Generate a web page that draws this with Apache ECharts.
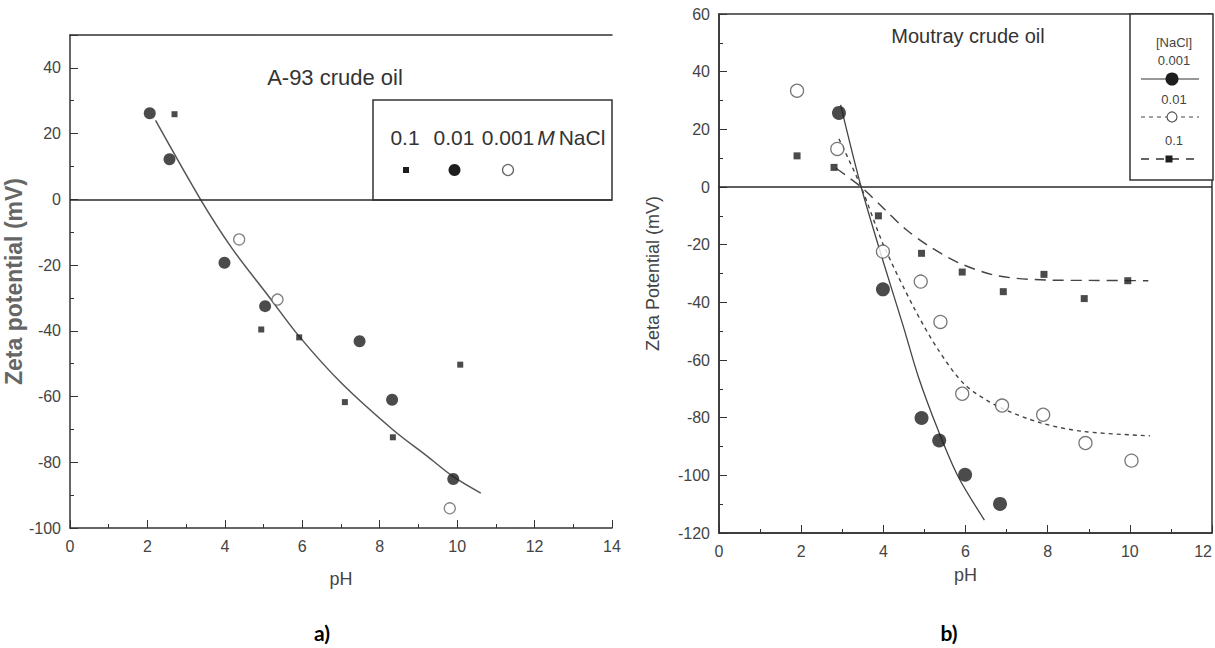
<!DOCTYPE html>
<html>
<head>
<meta charset="utf-8">
<script src="https://cdn.jsdelivr.net/npm/echarts@6/dist/echarts.min.js"></script>
<style>
html,body{margin:0;padding:0;background:#fff;}
#c{width:1215px;height:648px;}
</style>
</head>
<body>
<div id="c"></div>
<script>
// ---------- Panel a) A-93 crude oil ----------
const phA_01   = [2.7, 4.94, 5.92, 7.1, 8.34, 10.08];
const zA_01    = [25.9, -39.6, -42.0, -61.7, -72.4, -50.3];
const phA_001  = [2.06, 2.57, 3.99, 5.04, 7.48, 8.32, 9.9];
const zA_001   = [26.2, 12.2, -19.3, -32.5, -43.2, -61.0, -85.1];
const phA_0001 = [4.37, 5.36, 9.81];
const zA_0001  = [-12.2, -30.5, -94.0];
const phA_fit  = [2.21, 3.37, 4.19, 5.13, 5.92, 7.01, 8.34, 9.24, 9.9, 10.61];
const zA_fit   = [24, 0, -15, -29.5, -41.7, -55.9, -70.1, -78.3, -84.4, -89.4];

// ---------- Panel b) Moutray crude oil ----------
const phB_0001 = [2.92, 3.99, 4.93, 5.36, 5.99, 6.84];
const zB_0001  = [25.7, -35.5, -80.1, -87.9, -99.8, -109.9];
const phB_001  = [1.9, 2.88, 3.99, 4.91, 5.39, 5.92, 6.89, 7.89, 8.92, 10.04];
const zB_001   = [33.4, 13.2, -22.4, -32.8, -46.8, -71.7, -75.8, -79.0, -88.8, -94.9];
const phB_01   = [1.9, 2.8, 3.88, 4.93, 5.92, 6.92, 7.91, 8.89, 9.95];
const zB_01    = [10.8, 6.8, -10.0, -23.0, -29.5, -36.3, -30.3, -38.7, -32.5];
const phB_fit0001 = [2.96, 3.46, 4.0, 4.49, 4.85, 5.33, 5.82, 6.46];
const zB_fit0001  = [28.5, 0, -26, -48.5, -65.7, -84.2, -100.4, -115.5];
const phB_fit001  = [2.92, 3.46, 4.0, 4.75, 5.33, 5.98, 6.78, 7.83, 8.88, 10.49];
const zB_fit001   = [16.7, 0, -20, -42, -56.3, -68.5, -76, -81.8, -84.8, -86.3];
const phB_fit01   = [2.85, 3.46, 4.05, 4.53, 5.09, 5.82, 6.78, 8.07, 9.0, 10.45];
const zB_fit01    = [6.5, 0, -8, -14.5, -20.3, -26.2, -30.8, -32.3, -32.4, -32.5];

// ---------- tick labels / names ----------
const xTicksA = [0, 2, 4, 6, 8, 10, 12, 14];
const yTicksA = [-100, -80, -60, -40, -20, 0, 20, 40];
const xTicksB = [0, 2, 4, 6, 8, 10, 12];
const yTicksB = [-120, -100, -80, -60, -40, -20, 0, 20, 40, 60];

const zip = (xs, ys) => xs.map((x, i) => [x, ys[i]]);
const FONT = "'Liberation Sans', Arial, sans-serif";
const DARK = '#1e1e1e';
const AX = '#333';

function valueAxisX(grid, min, max, ticks, gap, extra) {
  return Object.assign({
    type: 'value', gridIndex: grid, min: min, max: max, interval: 2,
    name: 'pH', nameLocation: 'middle', nameGap: gap,
    nameTextStyle: {fontFamily: FONT, fontSize: 18, color: '#444'},
    axisLine: {show: true, onZero: false, lineStyle: {color: AX, width: 1.5}},
    axisTick: {show: true, inside: true, length: 8, lineStyle: {color: AX}},
    minorTick: {show: true, splitNumber: 2, length: 4, lineStyle: {color: AX}},
    axisLabel: {fontFamily: FONT, fontSize: 16, color: '#444', margin: 10,
      formatter: v => ticks.includes(v) ? String(v) : ''},
    splitLine: {show: false}
  }, extra || {});
}
function valueAxisY(grid, min, max, ticks, name, gap, nameStyle) {
  return {
    type: 'value', gridIndex: grid, min: min, max: max, interval: 20,
    name: name, nameLocation: 'middle', nameGap: gap,
    nameTextStyle: nameStyle,
    axisLine: {show: true, onZero: false, lineStyle: {color: AX, width: 1.5}},
    axisTick: {show: true, inside: true, length: 8, lineStyle: {color: AX}},
    minorTick: {show: true, splitNumber: 2, length: 4, lineStyle: {color: AX}},
    axisLabel: {fontFamily: FONT, fontSize: 16, color: '#444', margin: 9,
      formatter: v => ticks.includes(v) ? String(v) : ''},
    splitLine: {show: false}
  };
}
const zeroLine = {
  silent: true, symbol: 'none', label: {show: false},
  lineStyle: {color: '#2a2a2a', type: 'solid', width: 1.6},
  data: [{yAxis: 0}]
};

const chart = echarts.init(document.getElementById('c'), null, {renderer: 'svg'});
const option = {
  backgroundColor: '#fff',
  animation: false,
  grid: [
    {left: 70, top: 35, width: 542, height: 493},
    {left: 719, top: 14, width: 494, height: 519, show: true, borderColor: AX, borderWidth: 1.5, backgroundColor: 'transparent'}
  ],
  xAxis: [
    valueAxisX(0, 0, 14, xTicksA, 42),
    {type: 'value', gridIndex: 0, position: 'top', min: 0, max: 14,
      axisLine: {show: true, onZero: false, lineStyle: {color: AX, width: 1.5}},
      axisTick: {show: false}, axisLabel: {show: false}, splitLine: {show: false}},
    valueAxisX(1, 0, 12, xTicksB, 33, {})
  ],
  yAxis: [
    valueAxisY(0, -100, 50, yTicksA, 'Zeta potential (mV)', 40,
      {fontFamily: FONT, fontSize: 23, fontWeight: 'bold', color: '#666'}),
    valueAxisY(1, -120, 60, yTicksB, 'Zeta Potential (mV)', 57,
      {fontFamily: FONT, fontSize: 18, color: '#444'})
  ],
  series: [
    // panel a
    {name: 'A fit', type: 'line', xAxisIndex: 0, yAxisIndex: 0, data: zip(phA_fit, zA_fit),
      smooth: 0.3, showSymbol: false, symbol: 'none',
      lineStyle: {color: '#555', width: 1.5}, markLine: zeroLine, z: 2},
    {name: '0.1 M (a)', type: 'scatter', xAxisIndex: 0, yAxisIndex: 0, data: zip(phA_01, zA_01),
      symbol: 'rect', symbolSize: 6, itemStyle: {color: DARK}, z: 3},
    {name: '0.01 M (a)', type: 'scatter', xAxisIndex: 0, yAxisIndex: 0, data: zip(phA_001, zA_001),
      symbol: 'circle', symbolSize: 12, itemStyle: {color: DARK}, z: 3},
    {name: '0.001 M (a)', type: 'scatter', xAxisIndex: 0, yAxisIndex: 0, data: zip(phA_0001, zA_0001),
      symbol: 'circle', symbolSize: 11, itemStyle: {color: '#fff', borderColor: '#666', borderWidth: 1.3}, z: 3},
    // panel b
    {name: 'B fit 0.001', type: 'line', xAxisIndex: 2, yAxisIndex: 1, data: zip(phB_fit0001, zB_fit0001),
      smooth: 0.3, showSymbol: false, symbol: 'none',
      lineStyle: {color: '#444', width: 1.3}, markLine: zeroLine, z: 2},
    {name: 'B fit 0.01', type: 'line', xAxisIndex: 2, yAxisIndex: 1, data: zip(phB_fit001, zB_fit001),
      smooth: 0.3, showSymbol: false, symbol: 'none',
      lineStyle: {color: '#444', width: 1.4, type: [4, 4]}, z: 2},
    {name: 'B fit 0.1', type: 'line', xAxisIndex: 2, yAxisIndex: 1, data: zip(phB_fit01, zB_fit01),
      smooth: 0.3, showSymbol: false, symbol: 'none',
      lineStyle: {color: '#444', width: 1.4, type: [11, 7]}, z: 2},
    {name: '0.001 (b)', type: 'scatter', xAxisIndex: 2, yAxisIndex: 1, data: zip(phB_0001, zB_0001),
      symbol: 'circle', symbolSize: 14, itemStyle: {color: DARK}, z: 3},
    {name: '0.01 (b)', type: 'scatter', xAxisIndex: 2, yAxisIndex: 1, data: zip(phB_001, zB_001),
      symbol: 'circle', symbolSize: 13, itemStyle: {color: '#fff', borderColor: '#555', borderWidth: 1.3}, z: 3},
    {name: '0.1 (b)', type: 'scatter', xAxisIndex: 2, yAxisIndex: 1, data: zip(phB_01, zB_01),
      symbol: 'rect', symbolSize: 7, itemStyle: {color: DARK}, z: 3}
  ],
  graphic: [
    // titles
    {type: 'text', x: 335, y: 77, style: {text: 'A-93 crude oil', font: '22px ' + FONT, fill: '#333', align: 'center', verticalAlign: 'middle'}},
    {type: 'text', x: 968, y: 36, style: {text: 'Moutray crude oil', font: '20px ' + FONT, fill: '#333', align: 'center', verticalAlign: 'middle'}},
    // panel a legend box
    {type: 'rect', shape: {x: 373, y: 100, width: 239, height: 100}, style: {fill: 'none', stroke: AX, lineWidth: 1.5}, z: 10},
    {type: 'text', x: 405, y: 137, style: {text: '0.1', font: '21px ' + FONT, fill: '#333', align: 'center', verticalAlign: 'middle'}, z: 10},
    {type: 'text', x: 454, y: 137, style: {text: '0.01', font: '21px ' + FONT, fill: '#333', align: 'center', verticalAlign: 'middle'}, z: 10},
    {type: 'text', x: 508, y: 137, style: {text: '0.001', font: '21px ' + FONT, fill: '#333', align: 'center', verticalAlign: 'middle'}, z: 10},
    {type: 'text', x: 546, y: 137, style: {text: 'M', font: 'italic 21px ' + FONT, fill: '#333', align: 'center', verticalAlign: 'middle'}, z: 10},
    {type: 'text', x: 582, y: 137, style: {text: 'NaCl', font: '21px ' + FONT, fill: '#333', align: 'center', verticalAlign: 'middle'}, z: 10},
    {type: 'rect', shape: {x: 403, y: 167, width: 6, height: 6}, style: {fill: DARK}, z: 10},
    {type: 'circle', shape: {cx: 454.5, cy: 170, r: 6}, style: {fill: DARK}, z: 10},
    {type: 'circle', shape: {cx: 508, cy: 170, r: 5.5}, style: {fill: '#fff', stroke: '#666', lineWidth: 1.3}, z: 10},
    // panel b legend box
    {type: 'rect', shape: {x: 1130, y: 14, width: 83, height: 166}, style: {fill: '#fff', stroke: AX, lineWidth: 1.5}, z: 10},
    {type: 'text', x: 1174, y: 42, style: {text: '[NaCl]', font: '13px ' + FONT, fill: '#444', align: 'center', verticalAlign: 'middle'}, z: 11},
    {type: 'text', x: 1174, y: 60, style: {text: '0.001', font: '13px ' + FONT, fill: '#444', align: 'center', verticalAlign: 'middle'}, z: 11},
    {type: 'line', shape: {x1: 1141, y1: 79, x2: 1199, y2: 79}, style: {stroke: '#333', lineWidth: 1.2}, z: 11},
    {type: 'circle', shape: {cx: 1172, cy: 79, r: 6.5}, style: {fill: DARK}, z: 11},
    {type: 'text', x: 1174, y: 99, style: {text: '0.01', font: '13px ' + FONT, fill: '#444', align: 'center', verticalAlign: 'middle'}, z: 11},
    {type: 'line', shape: {x1: 1141, y1: 117, x2: 1199, y2: 117}, style: {stroke: '#444', lineWidth: 1.2, lineDash: [4, 4]}, z: 11},
    {type: 'circle', shape: {cx: 1172, cy: 117, r: 5}, style: {fill: '#fff', stroke: '#555', lineWidth: 1.2}, z: 11},
    {type: 'text', x: 1174, y: 140, style: {text: '0.1', font: '13px ' + FONT, fill: '#444', align: 'center', verticalAlign: 'middle'}, z: 11},
    {type: 'line', shape: {x1: 1141, y1: 159, x2: 1199, y2: 159}, style: {stroke: '#333', lineWidth: 1.3, lineDash: [8, 7]}, z: 11},
    {type: 'rect', shape: {x: 1165.5, y: 155.5, width: 7, height: 7}, style: {fill: DARK}, z: 11},
    // panel captions
    {type: 'text', x: 322, y: 632, style: {text: 'a)', font: 'bold 21px Lato, ' + FONT, fill: '#000', align: 'center', verticalAlign: 'middle'}},
    {type: 'text', x: 949, y: 632, style: {text: 'b)', font: 'bold 21px Lato, ' + FONT, fill: '#000', align: 'center', verticalAlign: 'middle'}}
  ]
};
option.xAxis[2].axisLabel.alignMaxLabel = 'right';
chart.setOption(option);
</script>
</body>
</html>
